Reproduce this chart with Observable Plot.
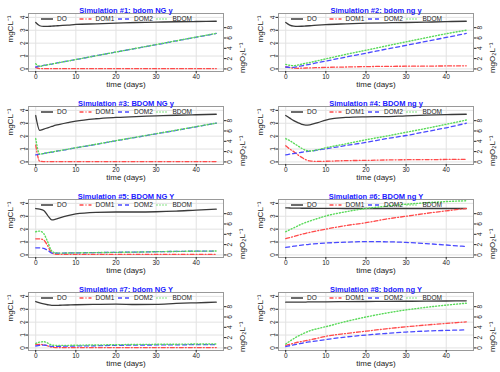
<!DOCTYPE html>
<html><head><meta charset="utf-8">
<script src="https://cdn.jsdelivr.net/npm/d3@7"></script>
<script src="https://cdn.jsdelivr.net/npm/@observablehq/plot@0.6"></script>
<style>
body{margin:0;background:#fff;font-family:"Liberation Sans",Arial,sans-serif;}
#grid{display:grid;grid-template-columns:250px 250px;grid-template-rows:repeat(4,93px);width:500px;height:372px;}
.panel{position:relative;width:250px;height:93px;overflow:hidden}
.panel svg{display:block}
.legend{position:absolute;left:0;top:0;pointer-events:none}
</style></head>
<body><div id="grid"></div>
<script>
const titles = [
  "Simulation #1: bdom NG y","Simulation #2: bdom ng y",
  "Simulation #3: BDOM NG y","Simulation #4: BDOM ng y",
  "Simulation #5: BDOM NG Y","Simulation #6: BDOM ng Y",
  "Simulation #7: bdom NG Y","Simulation #8: bdom ng Y"
];
const seriesNames = ["DO","DOM1","DOM2","BDOM"];
const xTicks = [0,10,20,30,40];
const yTicks = [0,1,2,3,4];
const rightTicks = [0,2,4,6,8];
const times = [0,1,2,3,4,5,6,8,10,15,20,25,30,35,40,45];

const DO = [
  [3.6,3.35,3.3,3.3,3.32,3.34,3.36,3.4,3.45,3.5,3.55,3.6,3.63,3.66,3.68,3.7],
  [3.6,3.4,3.32,3.3,3.31,3.33,3.35,3.4,3.44,3.5,3.55,3.58,3.6,3.63,3.67,3.7],
  [3.6,2.45,2.55,2.65,2.75,2.85,2.92,3.05,3.17,3.35,3.45,3.52,3.57,3.62,3.66,3.7],
  [3.6,3.4,3.2,3.05,2.92,2.85,2.88,3.05,3.25,3.45,3.5,3.52,3.58,3.63,3.67,3.7],
  [3.6,3.55,3.45,3.05,2.72,2.78,2.88,3.05,3.18,3.3,3.33,3.33,3.35,3.4,3.48,3.55],
  [3.65,3.64,3.63,3.63,3.62,3.62,3.62,3.61,3.61,3.6,3.6,3.6,3.6,3.6,3.6,3.6],
  [3.6,3.5,3.42,3.35,3.3,3.3,3.31,3.33,3.35,3.38,3.4,3.37,3.38,3.45,3.5,3.55],
  [3.55,3.55,3.55,3.56,3.56,3.56,3.57,3.57,3.58,3.59,3.6,3.61,3.62,3.63,3.64,3.65]
];
const DOM1 = [
  [0.1,0.03,0.02,0.02,0.02,0.02,0.02,0.02,0.02,0.02,0.02,0.02,0.02,0.02,0.02,0.02],
  [0.15,0.1,0.06,0.05,0.06,0.07,0.08,0.1,0.12,0.15,0.18,0.2,0.21,0.22,0.23,0.24],
  [1.3,0.05,0.03,0.03,0.03,0.03,0.03,0.03,0.03,0.03,0.03,0.03,0.03,0.03,0.03,0.03],
  [1.25,1.0,0.8,0.55,0.35,0.17,0.08,0.04,0.05,0.1,0.12,0.15,0.17,0.18,0.19,0.2],
  [1.25,1.25,1.15,0.7,0.15,0.05,0.04,0.04,0.04,0.04,0.04,0.04,0.04,0.04,0.04,0.04],
  [1.27,1.35,1.43,1.52,1.6,1.68,1.75,1.88,2.0,2.28,2.5,2.78,3.0,3.22,3.42,3.6],
  [0.25,0.27,0.25,0.15,0.05,0.03,0.03,0.03,0.03,0.03,0.03,0.03,0.03,0.03,0.03,0.03],
  [0.2,0.28,0.36,0.44,0.5,0.56,0.62,0.76,0.9,1.12,1.3,1.48,1.64,1.78,1.9,2.02]
];
const DOM2 = [
  [0.15,0.21,0.27,0.32,0.38,0.44,0.5,0.61,0.73,1.02,1.31,1.59,1.88,2.17,2.46,2.75],
  [0.15,0.12,0.12,0.18,0.24,0.3,0.36,0.49,0.61,0.92,1.22,1.53,1.83,2.14,2.44,2.75],
  [0.55,0.6,0.65,0.71,0.76,0.82,0.87,0.98,1.09,1.36,1.64,1.91,2.18,2.45,2.73,3.0],
  [0.55,0.6,0.65,0.7,0.75,0.8,0.83,0.92,1.02,1.27,1.52,1.8,2.05,2.35,2.65,3.0],
  [0.55,0.55,0.5,0.35,0.15,0.13,0.14,0.15,0.16,0.18,0.2,0.22,0.25,0.27,0.29,0.3],
  [0.58,0.63,0.68,0.72,0.76,0.8,0.83,0.88,0.92,0.99,1.03,1.02,0.97,0.88,0.77,0.65],
  [0.15,0.2,0.22,0.18,0.12,0.12,0.13,0.14,0.15,0.17,0.2,0.22,0.23,0.24,0.25,0.25],
  [0.1,0.17,0.24,0.3,0.36,0.42,0.47,0.56,0.65,0.85,1.0,1.12,1.23,1.31,1.36,1.4]
];
const BDOM = [
  [0.4,0.2,0.27,0.32,0.38,0.44,0.5,0.61,0.73,1.02,1.31,1.6,1.89,2.18,2.47,2.76],
  [0.35,0.28,0.25,0.3,0.37,0.44,0.5,0.64,0.78,1.13,1.45,1.78,2.1,2.42,2.73,3.0],
  [1.8,0.6,0.66,0.72,0.77,0.83,0.88,0.99,1.1,1.37,1.65,1.92,2.19,2.46,2.74,3.01],
  [1.8,1.65,1.45,1.25,1.05,0.9,0.85,0.95,1.1,1.4,1.72,2.0,2.3,2.6,2.92,3.25],
  [1.8,1.85,1.65,1.0,0.3,0.15,0.14,0.15,0.16,0.18,0.2,0.22,0.25,0.27,0.29,0.3],
  [1.8,1.95,2.1,2.25,2.4,2.52,2.63,2.83,3.02,3.35,3.6,3.78,3.93,4.05,4.14,4.2],
  [0.35,0.45,0.48,0.38,0.22,0.2,0.2,0.2,0.21,0.23,0.25,0.27,0.28,0.29,0.3,0.3],
  [0.3,0.52,0.72,0.9,1.06,1.2,1.33,1.5,1.65,2.05,2.4,2.7,2.95,3.15,3.32,3.47]
];
const seriesData = [DO, DOM1, DOM2, BDOM];

const styles = [
  {stroke:"#3a3a3a", dash:null, width:1.3},
  {stroke:"#ff4a4a", dash:"4,2,1,2", width:1.3},
  {stroke:"#4a4aff", dash:"4,3", width:1.3},
  {stroke:"#5ada5a", dash:"1,2", width:1.4}
];
const k = 0.4; // right-axis (mgO2/L) to left-axis (mgC/L) factor
const font = "Liberation Sans, Arial, Helvetica, sans-serif";
const ink = "#222";

const grid = document.getElementById("grid");
titles.forEach((title, i) => {
  const rowsBySeries = seriesNames.map((s, j) => times.map((t, ti) => ({t, v: seriesData[j][i][ti], s})));
  const rightPos = rightTicks.map(r => r * k);
  const chart = Plot.plot({
    width: 250, height: 93,
    marginTop: 13, marginBottom: 22, marginLeft: 28, marginRight: 27,
    style: {fontFamily: font, fontSize: "7px", background: "white", color: ink},
    x: {domain: [-1.8, 46.8]},
    y: {domain: [-0.2, 4.3]},
    marks: [
      Plot.gridX(xTicks, {stroke: "#e2e2e2", strokeOpacity: 1}),
      Plot.gridY(yTicks, {stroke: "#e2e2e2", strokeOpacity: 1}),
      Plot.frame({stroke: "#999"}),
      ...rowsBySeries.map((rows, j) => Plot.line(rows, {
        x: "t", y: "v", curve: "monotone-x",
        stroke: styles[j].stroke, strokeWidth: styles[j].width,
        strokeDasharray: styles[j].dash || undefined
      })),
      Plot.axisX(xTicks, {tickSize: 2.5, tickPadding: 0, label: null, fontSize: 6.5}),
      Plot.axisY(yTicks, {tickSize: 2.5, tickFormat: () => "", label: null}),
      Plot.axisY(rightPos, {anchor: "right", tickSize: 2.5, tickFormat: () => "", label: null}),
      Plot.text(yTicks, {y: d => d, text: d => String(d), frameAnchor: "left", dx: -4, rotate: -90,
        textAnchor: "middle", lineAnchor: "bottom", fontSize: 6.5, fill: ink}),
      Plot.text(rightTicks, {y: d => d * k, text: d => String(d), frameAnchor: "right", dx: 4, rotate: -90,
        textAnchor: "middle", lineAnchor: "top", fontSize: 6.5, fill: ink}),
      Plot.text([title], {text: d => d, frameAnchor: "top", dy: -6, fill: "#2020ff", fontWeight: "bold", fontSize: 7.5}),
      Plot.text(["time (days)"], {text: d => d, frameAnchor: "bottom", dy: 15, fontSize: 8, fill: ink}),
      Plot.text(["mgCL⁻¹"], {text: d => d, frameAnchor: "left", dx: -18, rotate: -90, fontSize: 8, fill: ink}),
      Plot.text(["mgO₂L⁻¹"], {text: d => d, frameAnchor: "right", dx: 19, rotate: -90, fontSize: 8, fill: ink})
    ]
  });
  const div = document.createElement("div");
  div.className = "panel";
  div.appendChild(chart);
  const leg = d3.select(div).append("svg").attr("class", "legend").attr("width", 250).attr("height", 30);
  seriesNames.forEach((s, j) => {
    const x0 = 41 + j * 38.5;
    leg.append("line").attr("x1", x0).attr("x2", x0 + 12).attr("y1", 19).attr("y2", 19)
      .attr("stroke", styles[j].stroke).attr("stroke-width", styles[j].width + 0.2)
      .attr("stroke-dasharray", styles[j].dash);
    leg.append("text").attr("x", x0 + 16).attr("y", 19).attr("dy", "0.35em")
      .attr("font-size", 6.5).attr("font-family", font).attr("fill", ink).text(s);
  });
  grid.appendChild(div);
});
</script>
</body></html>
